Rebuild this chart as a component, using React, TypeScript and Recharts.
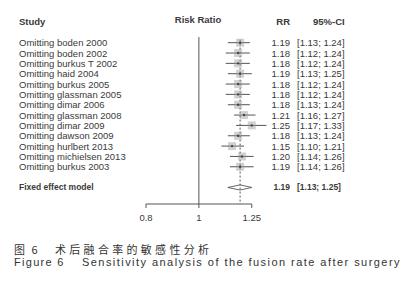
import { ScatterChart, Scatter, XAxis, YAxis, ErrorBar, ReferenceLine } from 'recharts'

const studies = [
  'Omitting boden 2000',
  'Omitting boden 2002',
  'Omitting burkus T 2002',
  'Omitting haid 2004',
  'Omitting burkus 2005',
  'Omitting glassman 2005',
  'Omitting dimar 2006',
  'Omitting glassman 2008',
  'Omitting dimar 2009',
  'Omitting dawson 2009',
  'Omitting hurlbert 2013',
  'Omitting michielsen 2013',
  'Omitting burkus 2003',
]
const rr = [1.19, 1.18, 1.18, 1.19, 1.18, 1.18, 1.18, 1.21, 1.25, 1.18, 1.15, 1.2, 1.19]
const lower = [1.13, 1.12, 1.12, 1.13, 1.12, 1.12, 1.13, 1.16, 1.17, 1.13, 1.1, 1.14, 1.14]
const upper = [1.24, 1.24, 1.24, 1.25, 1.24, 1.24, 1.24, 1.27, 1.33, 1.24, 1.21, 1.26, 1.26]

const pooledLabel = 'Fixed effect model'
const pooled = { rr: 1.19, lower: 1.13, upper: 1.25 }
const xTicks = [0.8, 1, 1.25]

const FONT = '"Liberation Sans", Arial, sans-serif'
const TEXT = '#3a3a3a'
const POOLED_ROW = studies.length + 1
const Y_DOMAIN: [number, number] = [-0.55, 15.6]

const fmt = (v: number) => v.toFixed(2)

const rows = studies.map((name, i) => ({
  x: rr[i],
  y: i,
  err: [rr[i] - lower[i], upper[i] - rr[i]],
}))

const diamond = [
  { x: pooled.lower, y: POOLED_ROW },
  { x: pooled.rr, y: POOLED_ROW - 0.25 },
  { x: pooled.upper, y: POOLED_ROW },
  { x: pooled.rr, y: POOLED_ROW + 0.25 },
  { x: pooled.lower, y: POOLED_ROW },
]

const rowTicks = [...studies.map((_, i) => i), POOLED_ROW]

function RowLabel(props: any) {
  const { y, payload } = props
  const i = payload.value
  const isPooled = i === POOLED_ROW
  const name = isPooled ? pooledLabel : studies[i]
  const est = isPooled ? pooled.rr : rr[i]
  const lo = isPooled ? pooled.lower : lower[i]
  const hi = isPooled ? pooled.upper : upper[i]
  const style = {
    fontFamily: FONT,
    fontSize: isPooled ? 8.5 : 9.5,
    fontWeight: isPooled ? 700 : 400,
    fill: TEXT,
  }
  return (
    <g>
      <text x={19} y={y} dominantBaseline="central" textAnchor="start" style={style}>
        {name}
      </text>
      <text x={290} y={y} dominantBaseline="central" textAnchor="end" style={style}>
        {fmt(est)}
      </text>
      <text x={297} y={y} dominantBaseline="central" textAnchor="start" style={style}>
        {`[${fmt(lo)}; ${fmt(hi)}]`}
      </text>
    </g>
  )
}

function StudyBox(props: any) {
  const { cx, cy } = props
  const s = 8
  return (
    <g>
      <rect x={cx - s / 2} y={cy - s / 2} width={s} height={s} fill="#9a9a9a" fillOpacity={0.45} />
      <circle cx={cx} cy={cy} r={1.2} fill="#444" />
    </g>
  )
}

const Hidden = () => <g />

const header = (text: string, style: any) => (
  <div
    style={{
      position: 'absolute',
      fontFamily: FONT,
      fontSize: 9.5,
      fontWeight: 700,
      color: TEXT,
      lineHeight: '12px',
      whiteSpace: 'nowrap',
      ...style,
    }}
  >
    {text}
  </div>
)

const caption = (text: string, style: any) => (
  <div
    style={{
      position: 'absolute',
      lineHeight: '14px',
      color: '#333',
      whiteSpace: 'nowrap',
      ...style,
    }}
  >
    {text}
  </div>
)

const CJK = '"Noto Sans CJK SC", sans-serif'

export default function App() {
  return (
    <div style={{ position: 'absolute', left: 0, top: 0, width: 413, height: 300, background: '#fff' }}>
      {header('Study', { left: 19, top: 16 })}
      {header('Risk Ratio', { left: 148, width: 100, top: 14, textAlign: 'center' })}
      {header('RR', { left: 240, width: 50, top: 16, textAlign: 'right' })}
      {header('95%-CI', { left: 313, top: 16 })}

      <ScatterChart width={413} height={300} margin={{ top: 37, right: 143, bottom: 76, left: 0 }}>
        <XAxis
          type="number"
          dataKey="x"
          scale="log"
          domain={[0.8, 1.35]}
          allowDataOverflow
          ticks={xTicks}
          tickFormatter={(v: number) => String(v)}
          axisLine={false}
          tickLine={{ stroke: '#555' }}
          tickSize={4}
          tickMargin={6}
          height={20}
          tick={{ fontFamily: FONT, fontSize: 9.5, fill: TEXT }}
        />
        <YAxis
          type="number"
          dataKey="y"
          domain={Y_DOMAIN}
          reversed
          allowDataOverflow
          ticks={rowTicks}
          interval={0}
          width={146}
          axisLine={false}
          tickLine={false}
          tick={<RowLabel />}
        />
        <ReferenceLine x={1} stroke="#555" strokeWidth={1} />
        <ReferenceLine
          segment={[
            { x: pooled.rr, y: -0.3 },
            { x: pooled.rr, y: Y_DOMAIN[1] },
          ]}
          stroke="#555"
          strokeDasharray="2 2"
          ifOverflow="visible"
        />
        <ReferenceLine
          segment={[
            { x: xTicks[0], y: Y_DOMAIN[1] },
            { x: xTicks[xTicks.length - 1], y: Y_DOMAIN[1] },
          ]}
          stroke="#555"
          ifOverflow="visible"
        />
        <Scatter data={rows} shape={<StudyBox />} isAnimationActive={false}>
          <ErrorBar dataKey="err" direction="x" width={0} stroke="#555" strokeWidth={1} />
        </Scatter>
        <Scatter
          data={diamond}
          line={{ stroke: '#444', strokeWidth: 0.8 }}
          lineType="joint"
          shape={<Hidden />}
          isAnimationActive={false}
        />
      </ScatterChart>

      {caption('图 6', { left: 14, top: 242, fontFamily: CJK, fontSize: 11, letterSpacing: 2 })}
      {caption('术后融合率的敏感性分析', { left: 55, top: 242, fontFamily: CJK, fontSize: 11, letterSpacing: 3.3 })}
      {caption('Figure 6', { left: 14, top: 255, fontFamily: FONT, fontSize: 11, letterSpacing: 1.3 })}
      {caption('Sensitivity analysis of the fusion rate after surgery', {
        left: 82,
        top: 255,
        fontFamily: FONT,
        fontSize: 11,
        letterSpacing: 1.45,
      })}
    </div>
  )
}
